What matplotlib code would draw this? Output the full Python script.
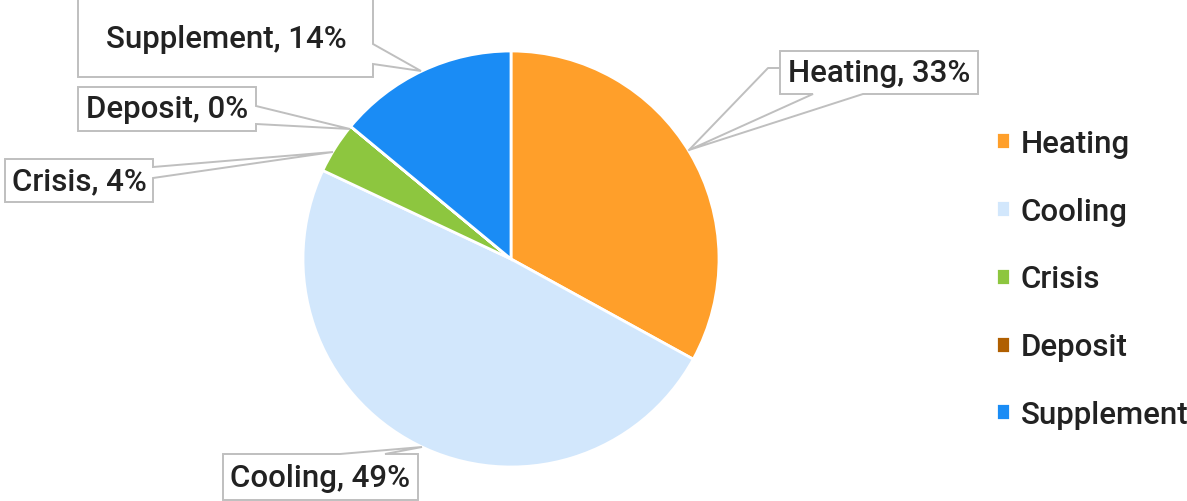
import matplotlib
matplotlib.use("Agg")
import matplotlib.pyplot as plt
from matplotlib.patches import Polygon
import numpy as np

categories = ["Heating", "Cooling", "Crisis", "Deposit", "Supplement"]
values = [33, 49, 4, 0.001, 14]
pct_labels = ["33%", "49%", "4%", "0%", "14%"]
colors = ["#FF9F2A", "#D2E7FC", "#8DC63F", "#B05F00", "#1A8CF5"]

plt.rcParams['font.family'] = ['Roboto', 'DejaVu Sans']
plt.rcParams['font.weight'] = 'medium'

W, H = 1187, 502
fig = plt.figure(figsize=(W / 100, H / 100), dpi=100)
ax = fig.add_axes([0, 0, 1, 1])

cx, cy, r = 511, H - 260, 208
wedges, _ = ax.pie(values, colors=colors, startangle=90, counterclock=False,
                   center=(cx, cy), radius=r, frame=True,
                   wedgeprops=dict(edgecolor='white', linewidth=2))
ax.set_xlim(0, W)
ax.set_ylim(0, H)
ax.set_aspect('equal')
ax.axis('off')

def P(pts):
    return [(x, H - y) for x, y in pts]

edge = "#BFBFBF"
FS = 22.5
# callout shapes (pixel coords, y down)
callouts = {
    "Supplement": ([(78, -5), (373, -5), (373, 45), (421, 72), (373, 65), (373, 78), (78, 78)], (226, 40)),
    "Deposit": ([(78, 88), (256, 88), (256, 107), (350, 130), (256, 125), (256, 132), (78, 132)], (167, 110)),
    "Crisis": ([(5, 160), (153, 160), (153, 168), (333, 153), (153, 179), (153, 203), (5, 203)], (79, 182)),
    "Heating": ([(780, 52), (978, 52), (978, 95), (863, 95), (689, 151), (813, 95), (780, 95)], (879, 74)),
    "Cooling": ([(223, 455), (340, 455), (422, 448), (385, 455), (418, 455), (418, 501), (223, 501)], (320, 479)),
}
for cat, pct in zip(categories, pct_labels):
    pts, (tx, ty) = callouts[cat]
    ax.add_patch(Polygon(P(pts), closed=True, facecolor='white', edgecolor=edge, lw=1.4, zorder=5))
    ax.text(tx, H - ty, f"{cat}, {pct}", ha='center', va='center', fontsize=FS,
            color='#222222', zorder=6)
# extra leader for Heating
ax.plot([780, 768, 689], [H - 69, H - 69, H - 151], color=edge, lw=1.4, zorder=5)

leg = ax.legend(wedges, categories, loc='upper left', bbox_to_anchor=(996 / W, 1 - 130 / H),
                frameon=False, fontsize=FS, handlelength=0.45, handleheight=0.45,
                handletextpad=0.35, labelspacing=1.24, borderaxespad=0, borderpad=0)
for t in leg.get_texts():
    t.set_color('#222222')

fig.savefig("out.png", dpi=100)
